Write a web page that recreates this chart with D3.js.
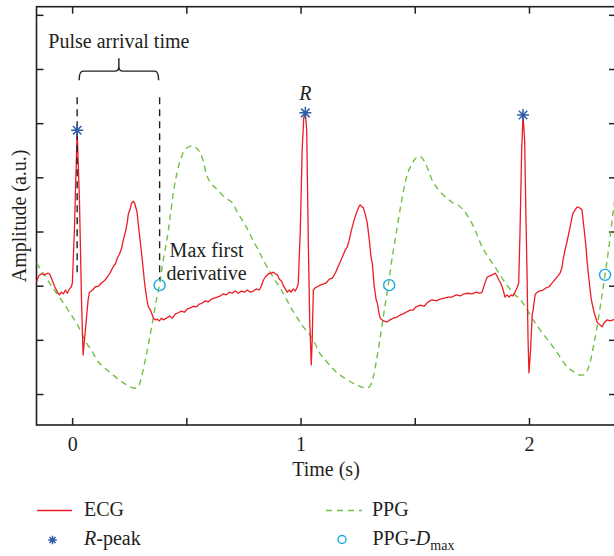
<!DOCTYPE html>
<html>
<head>
<meta charset="utf-8">
<script src="https://cdn.jsdelivr.net/npm/d3@7"></script>
<style>
body { margin: 0; background: #fff; }
text { font-family: "Liberation Serif", "DejaVu Serif", serif; fill: #231f20; }
</style>
</head>
<body>
<div id="chart"></div>
<script>
// ECG trace (time in s, amplitude in a.u.)
const ecgTime = [-0.156,-0.147,-0.134,-0.121,-0.108,-0.099,-0.091,-0.077,-0.064,-0.056,-0.047,-0.038,-0.029,-0.021,-0.012,-0.003,
  0.001,0.010,0.022,0.032,0.041,0.048,0.058,0.070,0.076,0.089,0.102,0.115,0.128,0.141,0.154,0.168,0.181,0.189,0.198,0.207,
  0.216,0.224,0.233,0.242,0.246,0.255,0.259,0.267,0.273,0.277,0.284,0.290,0.299,0.308,0.316,0.321,0.329,0.334,0.343,0.351,
  0.356,0.364,0.373,0.382,0.391,0.399,0.413,0.426,0.439,0.452,0.465,0.478,0.491,0.504,0.518,0.531,0.544,0.557,0.570,0.583,
  0.596,0.609,0.622,0.636,0.649,0.662,0.675,0.688,0.701,0.714,0.727,0.741,0.754,0.767,0.780,0.793,0.806,0.819,0.828,0.837,
  0.846,0.859,0.872,0.881,0.889,0.898,0.907,0.916,0.924,0.933,0.942,0.951,0.959,0.968,0.977,0.986,0.990,0.999,1.007,1.014,
  1.021,1.027,1.034,1.040,1.047,1.051,1.056,1.064,1.073,1.086,1.099,1.112,1.126,1.139,1.152,1.165,1.174,1.187,1.196,1.204,
  1.213,1.222,1.231,1.239,1.248,1.257,1.261,1.270,1.274,1.283,1.292,1.301,1.309,1.314,1.322,1.331,1.336,1.344,1.349,1.362,
  1.379,1.392,1.406,1.423,1.436,1.449,1.462,1.480,1.493,1.506,1.524,1.541,1.559,1.576,1.594,1.611,1.629,1.646,1.664,1.681,
  1.699,1.716,1.734,1.751,1.769,1.786,1.795,1.804,1.817,1.830,1.839,1.852,1.860,1.869,1.878,1.887,1.895,1.904,1.913,1.922,
  1.930,1.939,1.948,1.955,1.961,1.968,1.974,1.981,1.987,1.992,1.996,2.000,2.007,2.014,2.018,2.027,2.031,2.044,2.062,2.075,
  2.088,2.097,2.105,2.119,2.127,2.136,2.145,2.149,2.158,2.167,2.171,2.180,2.189,2.193,2.202,2.210,2.215,2.224,2.232,2.241,
  2.250,2.254,2.263,2.272,2.276,2.285,2.298,2.307,2.320,2.329,2.342,2.355,2.368,2.381];
const ecgAmp = [2.07,2.18,2.22,2.20,2.23,2.22,2.14,1.99,1.88,1.83,1.88,1.85,1.92,1.86,1.94,1.98,
  2.05,3.03,4.87,3.58,1.74,0.72,1.18,1.74,1.88,1.92,1.98,1.99,2.05,2.09,2.16,2.25,2.36,2.40,2.51,2.58,
  2.68,2.84,2.99,3.18,3.32,3.43,3.51,3.56,3.53,3.47,3.36,3.12,2.79,2.44,2.10,1.92,1.70,1.61,1.55,1.46,
  1.40,1.37,1.38,1.35,1.40,1.37,1.40,1.44,1.40,1.48,1.50,1.53,1.51,1.57,1.59,1.62,1.61,1.66,1.68,1.72,
  1.70,1.75,1.77,1.79,1.81,1.85,1.83,1.88,1.86,1.90,1.86,1.90,1.88,1.92,1.88,1.90,1.94,1.92,1.99,2.10,
  2.16,2.22,2.23,2.25,2.22,2.20,2.12,2.09,2.01,1.94,1.88,1.92,1.88,1.94,1.90,1.98,2.05,3.03,4.50,5.10,
  5.19,4.87,2.79,1.37,0.54,1.00,1.92,1.96,1.98,2.01,2.03,2.05,2.12,2.14,2.23,2.36,2.44,2.57,2.66,2.71,
  2.84,3.01,3.16,3.27,3.38,3.47,3.49,3.45,3.45,3.32,3.16,2.84,2.51,2.42,2.01,1.74,1.68,1.48,1.40,1.35,
  1.33,1.37,1.40,1.42,1.46,1.48,1.51,1.55,1.55,1.61,1.64,1.62,1.70,1.74,1.72,1.75,1.77,1.79,1.79,1.83,
  1.81,1.85,1.86,1.85,1.88,1.86,1.88,2.01,2.16,2.18,2.20,2.23,2.18,2.10,2.03,1.92,1.79,1.83,1.79,1.83,
  1.81,1.88,1.96,2.05,3.03,4.50,5.15,4.69,3.21,2.10,1.00,0.39,0.81,1.46,1.55,1.83,1.86,1.90,1.92,1.96,
  1.98,2.03,2.07,2.14,2.18,2.23,2.34,2.47,2.66,2.82,2.90,3.08,3.27,3.34,3.40,3.45,3.45,3.43,3.40,3.06,
  2.70,2.47,2.10,1.77,1.68,1.51,1.33,1.29,1.24,1.31,1.37,1.35,1.37,1.38];

// PPG trace
const ppgTime = [-0.156,-0.130,-0.099,-0.068,-0.038,-0.007,0.019,0.041,0.063,0.089,0.111,0.137,0.168,0.207,0.238,0.268,
  0.281,0.294,0.303,0.316,0.329,0.343,0.356,0.369,0.382,0.399,0.417,0.430,0.443,0.456,0.474,0.491,0.509,0.526,0.544,0.561,
  0.575,0.588,0.601,0.618,0.636,0.658,0.679,0.701,0.723,0.745,0.767,0.789,0.815,0.841,0.867,0.889,0.916,0.942,0.964,0.990,
  1.012,1.034,1.060,1.086,1.108,1.134,1.160,1.187,1.213,1.239,1.266,1.292,1.305,1.318,1.331,1.349,1.366,1.384,1.401,1.423,
  1.441,1.458,1.471,1.489,1.506,1.524,1.541,1.559,1.576,1.602,1.633,1.664,1.690,1.712,1.734,1.756,1.777,1.795,1.821,1.852,
  1.882,1.909,1.939,1.961,1.987,2.018,2.049,2.093,2.127,2.167,2.197,2.224,2.246,2.263,2.281,2.298,2.316,2.333,2.351,2.364,2.381];
const ppgAmp = [2.42,2.25,2.05,1.86,1.68,1.48,1.31,1.13,0.94,0.78,0.61,0.50,0.39,0.26,0.17,0.11,
  0.11,0.17,0.30,0.54,0.81,1.13,1.42,1.74,2.01,2.47,2.90,3.30,3.71,4.02,4.32,4.49,4.56,4.58,4.54,4.45,
  4.28,4.06,3.93,3.84,3.77,3.67,3.60,3.53,3.36,3.21,3.05,2.86,2.66,2.44,2.25,2.10,1.92,1.72,1.55,1.38,
  1.24,1.13,0.96,0.74,0.63,0.50,0.39,0.31,0.24,0.18,0.13,0.11,0.15,0.30,0.59,1.05,1.53,2.01,2.51,3.08,
  3.53,3.90,4.10,4.26,4.36,4.39,4.30,4.14,3.95,3.78,3.64,3.54,3.49,3.40,3.27,3.10,2.90,2.71,2.53,2.34,
  2.14,1.98,1.83,1.75,1.59,1.37,1.18,0.94,0.74,0.50,0.41,0.35,0.37,0.52,0.85,1.24,1.72,2.20,2.75,3.21,3.77];

// detected points
const rPeakTime = [0.022, 1.021, 1.974];
const rPeakAmp = [4.87, 5.19, 5.15];
const dmaxTime = [0.383, 1.388, 2.333];
const dmaxAmp = [2.01, 2.01, 2.20];

// axes
const xTicks = [0, 0.5, 1, 1.5, 2];
const xTickLabels = ["0", "", "1", "", "2"];
const yTicks = [0, 1, 2, 3, 4, 5, 6, 7];

const W = 614, H = 556;
const plot = { left: 36.5, right: 616, top: 6.7, bottom: 425 };

const svg = d3.select("#chart").append("svg")
  .attr("width", W)
  .attr("height", H);

const x = d3.scaleLinear().domain([-0.156, 2.381]).range([plot.left, plot.right]);
const y = d3.scaleLinear().domain([-0.572, 7.15]).range([plot.bottom, plot.top]);

svg.append("clipPath").attr("id", "clip")
  .append("rect")
  .attr("x", plot.left).attr("y", plot.top)
  .attr("width", plot.right - plot.left).attr("height", plot.bottom - plot.top);

// axes with inward ticks
const tickLen = 7;
const axisColor = "#231f20";
function styleAxis(g) {
  g.select(".domain").remove();
  g.selectAll(".tick line").attr("stroke", axisColor).attr("stroke-width", 1.5);
  g.selectAll(".tick text").style("font-size", "20px").attr("fill", axisColor);
}

svg.append("g")
  .attr("transform", "translate(0," + plot.bottom + ")")
  .call(d3.axisBottom(x).tickValues(xTicks).tickSizeInner(-tickLen).tickSizeOuter(0).tickPadding(12)
    .tickFormat((d, i) => xTickLabels[i]))
  .call(styleAxis);
svg.append("g")
  .attr("transform", "translate(0," + plot.top + ")")
  .call(d3.axisTop(x).tickValues(xTicks).tickSizeInner(-tickLen).tickSizeOuter(0).tickFormat(""))
  .call(styleAxis);
svg.append("g")
  .attr("transform", "translate(" + plot.left + ",0)")
  .call(d3.axisLeft(y).tickValues(yTicks).tickSizeInner(-tickLen).tickSizeOuter(0).tickFormat(""))
  .call(styleAxis);
svg.append("g")
  .attr("transform", "translate(" + plot.right + ",0)")
  .call(d3.axisRight(y).tickValues(yTicks).tickSizeInner(-tickLen).tickSizeOuter(0).tickFormat(""))
  .call(styleAxis);

svg.append("rect")
  .attr("x", plot.left).attr("y", plot.top)
  .attr("width", plot.right - plot.left).attr("height", plot.bottom - plot.top)
  .attr("fill", "none").attr("stroke", axisColor).attr("stroke-width", 1.6);

// lines
const ecg = ecgTime.map((t, i) => [t, ecgAmp[i]]);
const ppg = ppgTime.map((t, i) => [t, ppgAmp[i]]);
const line = d3.line().x(d => x(d[0])).y(d => y(d[1]));
const ecgColor = "#ec1c24", ppgColor = "#72bf44", starColor = "#2d5da8", circColor = "#1aaae2";

const lines = svg.append("g").attr("clip-path", "url(#clip)");
lines.append("path").datum(ppg)
  .attr("d", line.curve(d3.curveCatmullRom))
  .attr("fill", "none").attr("stroke", ppgColor).attr("stroke-width", 1.4)
  .attr("stroke-dasharray", "6,4.5");
lines.append("path").datum(ecg)
  .attr("d", line.curve(d3.curveLinear))
  .attr("fill", "none").attr("stroke", ecgColor).attr("stroke-width", 1.3)
  .attr("stroke-linejoin", "round");

// pulse arrival time annotation
const patTop = 5.48;
const xa = x(rPeakTime[0]), xb = x(dmaxTime[0]);
svg.append("line")
  .attr("x1", xa).attr("x2", xa).attr("y1", y(patTop)).attr("y2", y(2.2))
  .attr("stroke", axisColor).attr("stroke-width", 1.4).attr("stroke-dasharray", "7,5");
svg.append("line")
  .attr("x1", xb).attr("x2", xb).attr("y1", y(patTop)).attr("y2", y(2.1))
  .attr("stroke", axisColor).attr("stroke-width", 1.4).attr("stroke-dasharray", "7,5");

const bl = xa + 2, br = xb - 1, bm = (bl + br) / 2;
const yb = y(patTop) - 17, yh = y(patTop) - 26, yt = y(patTop) - 39;
svg.append("path")
  .attr("d", `M${bl},${yb} Q${bl},${yh} ${bl + 4},${yh} L${bm - 4},${yh} Q${bm},${yh} ${bm},${yh - 5} L${bm},${yt}` +
    ` M${bm},${yh - 5} Q${bm},${yh} ${bm + 4},${yh} L${br - 4},${yh} Q${br},${yh} ${br},${yb}`)
  .attr("fill", "none").attr("stroke", axisColor).attr("stroke-width", 1.4);

svg.append("text").attr("x", bm).attr("y", 48).attr("text-anchor", "middle")
  .style("font-size", "20px").text("Pulse arrival time");

svg.append("text").attr("x", x(rPeakTime[1])).attr("y", y(rPeakAmp[1]) - 13).attr("text-anchor", "middle")
  .style("font-size", "20px").style("font-style", "italic").text("R");

svg.append("text").attr("x", xb + 10).attr("y", 257).style("font-size", "20px").text("Max first");
svg.append("text").attr("x", xb + 7).attr("y", 280).style("font-size", "20px").text("derivative");

// markers
function star(g, cx, cy, s) {
  const d = [0, 45, 90, 135].map(a => {
    const r = a * Math.PI / 180, dx = s * Math.cos(r), dy = s * Math.sin(r);
    return `M${cx - dx},${cy - dy}L${cx + dx},${cy + dy}`;
  }).join("");
  g.append("path").attr("d", d).attr("stroke", starColor).attr("stroke-width", 1.5).attr("fill", "none");
}
rPeakTime.forEach((t, i) => star(svg, x(t), y(rPeakAmp[i]), 6));
svg.selectAll(".dmax").data(dmaxTime).enter().append("circle")
  .attr("class", "dmax")
  .attr("cx", d => x(d)).attr("cy", (d, i) => y(dmaxAmp[i])).attr("r", 5.5)
  .attr("fill", "none").attr("stroke", circColor).attr("stroke-width", 1.4);

// axis titles
svg.append("text").attr("x", 326).attr("y", 476).attr("text-anchor", "middle")
  .style("font-size", "20px").text("Time (s)");
svg.append("text").attr("transform", "translate(26," + (plot.top + plot.bottom) / 2 + ") rotate(-90)")
  .attr("text-anchor", "middle").style("font-size", "20px").text("Amplitude (a.u.)");

// legend
const lg = svg.append("g");
lg.append("line").attr("x1", 37).attr("x2", 72).attr("y1", 510.5).attr("y2", 510.5)
  .attr("stroke", ecgColor).attr("stroke-width", 1.3);
lg.append("text").attr("x", 84).attr("y", 516).style("font-size", "20px").text("ECG");
lg.append("line").attr("x1", 326).attr("x2", 362).attr("y1", 510.5).attr("y2", 510.5)
  .attr("stroke", ppgColor).attr("stroke-width", 1.4).attr("stroke-dasharray", "6,5");
lg.append("text").attr("x", 372).attr("y", 516).style("font-size", "20px").text("PPG");
star(lg, 52.5, 540, 4.3);
const rt = lg.append("text").attr("x", 84).attr("y", 545).style("font-size", "20px");
rt.append("tspan").style("font-style", "italic").text("R");
rt.append("tspan").text("-peak");
lg.append("circle").attr("cx", 342).attr("cy", 539.5).attr("r", 4)
  .attr("fill", "none").attr("stroke", circColor).attr("stroke-width", 1.4);
const pt = lg.append("text").attr("x", 372.5).attr("y", 545).style("font-size", "20px");
pt.append("tspan").text("PPG-");
pt.append("tspan").style("font-style", "italic").text("D");
pt.append("tspan").attr("dy", 5).style("font-size", "14px").text("max");
</script>
</body>
</html>
